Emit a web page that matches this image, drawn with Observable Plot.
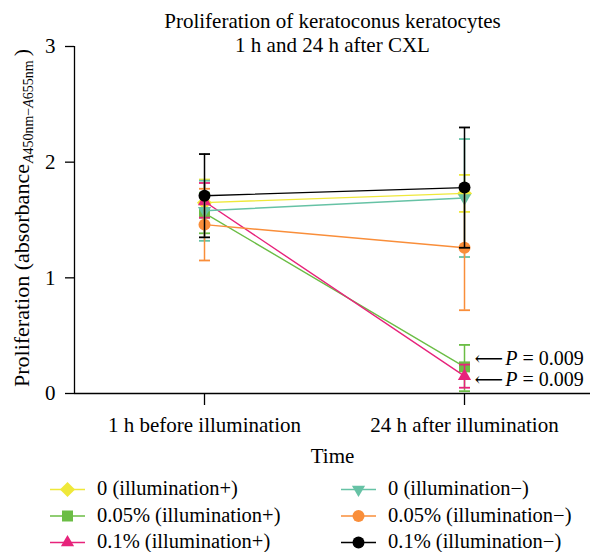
<!DOCTYPE html>
<html><head><meta charset="utf-8">
<script src="https://cdn.jsdelivr.net/npm/d3@7"></script>
<script src="https://cdn.jsdelivr.net/npm/@observablehq/plot@0.6"></script>
<style>
body{margin:0;background:#fff;}
#wrap{position:relative;width:590px;height:552px;font-family:"Liberation Serif",serif;}
#wrap svg{display:block;}
</style></head><body><div id="wrap"><div id="chart"></div><div id="legend"></div></div>
<script>
const timePoints = ["1 h before illumination", "24 h after illumination"];
const seriesNames = ["0 (illumination+)", "0.05% (illumination+)", "0.1% (illumination+)", "0 (illumination\u2212)", "0.05% (illumination\u2212)", "0.1% (illumination\u2212)"];
const seriesColors = ["#efe83a", "#6bbd45", "#e7237b", "#66c2a5", "#f98e3a", "#000000"];
const seriesSymbols = ["diamond2", "square", "triangle", "triangleDown", "circle", "circle"];
const meanBefore = [1.65, 1.56, 1.66, 1.58, 1.46, 1.71];
const lowBefore  = [1.45, 1.385, 1.52, 1.32, 1.15, 1.35];
const highBefore = [1.85, 1.735, 1.82, 1.84, 1.77, 2.07];
const meanAfter  = [1.73, 0.23, 0.15, 1.69, 1.26, 1.78];
const lowAfter   = [1.57, 0.02, 0.05, 1.18, 0.72, 1.26];
const highAfter  = [1.89, 0.42, 0.25, 2.20, 1.80, 2.30];
const yTicks = [0, 1, 2, 3];
const pLabels = ["P = 0.009", "P = 0.009"];
const pLabelY = [0.305, 0.12];
const titleText = "Proliferation of keratoconus keratocytes\n1 h and 24 h after CXL";
const xLabel = "Time";
const drawOrder = [0, 1, 2, 3, 4, 5];

const FONT = "Liberation Serif";
const FS = 21;
const capSymbol = {draw(ctx) { ctx.moveTo(-5.5, 0); ctx.lineTo(5.5, 0); }};
const triDown = {draw(ctx, size) {
  const y = -Math.sqrt(size / (Math.sqrt(3) * 3));
  ctx.moveTo(0, -y * 2); ctx.lineTo(Math.sqrt(3) * y, y); ctx.lineTo(-Math.sqrt(3) * y, y); ctx.closePath();
}};
const symbolFor = s => s === "triangleDown" ? triDown : s;
const symbolR = {diamond2: 6.8, square: 6.2, triangle: 4.9, triangleDown: 4.9, circle: 6};

const rows = [];
seriesNames.forEach((name, i) => {
  rows.push({s: i, t: 0, mean: meanBefore[i], low: lowBefore[i], high: highBefore[i]});
  rows.push({s: i, t: 1, mean: meanAfter[i], low: lowAfter[i], high: highAfter[i]});
});

const marks = [
  Plot.ruleY([0], {stroke: "black", strokeWidth: 1.3}),
  Plot.ruleX([-0.5], {stroke: "black", strokeWidth: 1.3}),
  Plot.axisY({ticks: yTicks, tickFormat: d => String(d), tickSize: 9, tickPadding: 10, label: null, fontSize: FS, fontFamily: FONT, strokeWidth: 1.3}),
  Plot.axisX({ticks: [0, 1], tickFormat: i => timePoints[i], tickSize: 12, tickPadding: 12, label: null, fontSize: FS, fontFamily: FONT, strokeWidth: 1.3}),
];
for (const i of drawOrder) {
  const d = rows.filter(r => r.s === i);
  const c = seriesColors[i];
  marks.push(Plot.line(d, {x: "t", y: "mean", stroke: c, strokeWidth: 1.4}));
  marks.push(Plot.ruleX(d, {x: "t", y1: "low", y2: "high", stroke: c, strokeWidth: 1.5}));
  marks.push(Plot.dot(d, {x: "t", y: "low", symbol: capSymbol, stroke: c, strokeWidth: 1.8, fill: "none"}));
  marks.push(Plot.dot(d, {x: "t", y: "high", symbol: capSymbol, stroke: c, strokeWidth: 1.8, fill: "none"}));
  marks.push(Plot.dot(d, {x: "t", y: "mean", symbol: symbolFor(seriesSymbols[i]), r: symbolR[seriesSymbols[i]], fill: c, stroke: "none"}));
}
marks.push(Plot.text(pLabels.map((l, k) => ({l, y: pLabelY[k]})), {x: () => 1, y: "y", text: d => "\u2190 " + d.l, dx: 10, textAnchor: "start", fontSize: 20, fontFamily: FONT}));
marks.push(Plot.text([titleText], {frameAnchor: "top", dy: 5, lineAnchor: "bottom", lineHeight: 1.1, fontSize: FS, fontFamily: FONT}));
marks.push(Plot.text([xLabel], {frameAnchor: "bottom", dy: 69, lineAnchor: "bottom", fontSize: FS, fontFamily: FONT}));
marks.push(Plot.text(["YLABEL"], {frameAnchor: "left", dx: -46, dy: -2, rotate: -90, textAnchor: "middle", lineAnchor: "bottom", fontSize: 22, fontFamily: FONT}));

const chart = Plot.plot({
  width: 590, height: 470,
  marginTop: 46, marginBottom: 77, marginLeft: 74, marginRight: 0,
  x: {type: "linear", domain: [-0.5, 1.4846]},
  y: {domain: [0, 3]},
  style: {fontFamily: FONT, fontSize: FS + "px", color: "black", background: "white", overflow: "visible"},
  marks
});
document.getElementById("chart").appendChild(chart);

const NS = "http://www.w3.org/2000/svg";
function tspan(txt, attrs = {}) {
  const t = document.createElementNS(NS, "tspan");
  for (const k in attrs) t.setAttribute(k, attrs[k]);
  t.textContent = txt;
  return t;
}
chart.querySelectorAll("text").forEach(el => {
  if (el.textContent === "YLABEL") {
    el.textContent = "";
    el.appendChild(tspan("Proliferation (absorbance"));
    el.appendChild(tspan("A", {dy: 4, dx: 1, "font-size": 14, "font-style": "italic"}));
    el.appendChild(tspan("450nm\u2212", {"font-size": 14}));
    el.appendChild(tspan("A", {"font-size": 14, "font-style": "italic"}));
    el.appendChild(tspan("655nm", {"font-size": 14}));
    el.appendChild(tspan(")", {dy: -4, dx: 4}));
  } else if (el.textContent.startsWith("\u2190 P")) {
    const rest = el.textContent.slice(3);
    el.textContent = "";
    el.appendChild(tspan("\u27F5"));
    el.appendChild(tspan("P", {"font-style": "italic", dx: 2}));
    el.appendChild(tspan(rest));
  }
});
chart.querySelectorAll("g, text, tspan").forEach(el => {
  el.style.fontFamily = '"Liberation Serif", serif';
});
chart.querySelectorAll("tspan").forEach(el => {
  if (el.textContent === "\u27F5") el.style.fontFamily = '"DejaVu Serif", "DejaVu Sans", serif';
});

// Legend below the plot
const legendItems = [
  {i: 0, col: 0, row: 0}, {i: 1, col: 0, row: 1}, {i: 2, col: 0, row: 2},
  {i: 3, col: 1, row: 0}, {i: 4, col: 1, row: 1}, {i: 5, col: 1, row: 2}
];
const colX = [50, 341];
const rowY = [19.5, 46, 72.5];
const leg = d3.select("#legend").append("svg").attr("width", 590).attr("height", 82)
  .style("font-family", '"Liberation Serif", serif').style("font-size", "20.5px");
for (const it of legendItems) {
  const x0 = colX[it.col], y0 = rowY[it.row], c = seriesColors[it.i];
  const g = leg.append("g").attr("transform", `translate(${x0},${y0})`);
  g.append("line").attr("x1", 0).attr("x2", 35).attr("stroke", c).attr("stroke-width", 1.5);
  const sName = seriesSymbols[it.i];
  const symType = sName === "triangleDown" ? triDown : {diamond2: d3.symbolDiamond2, square: d3.symbolSquare, triangle: d3.symbolTriangle, circle: d3.symbolCircle}[sName];
  const r = symbolR[sName];
  g.append("path").attr("transform", "translate(17.5,0)").attr("d", d3.symbol(symType, Math.PI * r * r)()).attr("fill", c);
  g.append("text").attr("x", 47).attr("y", 5.5).text(seriesNames[it.i]);
}
</script></body></html>
